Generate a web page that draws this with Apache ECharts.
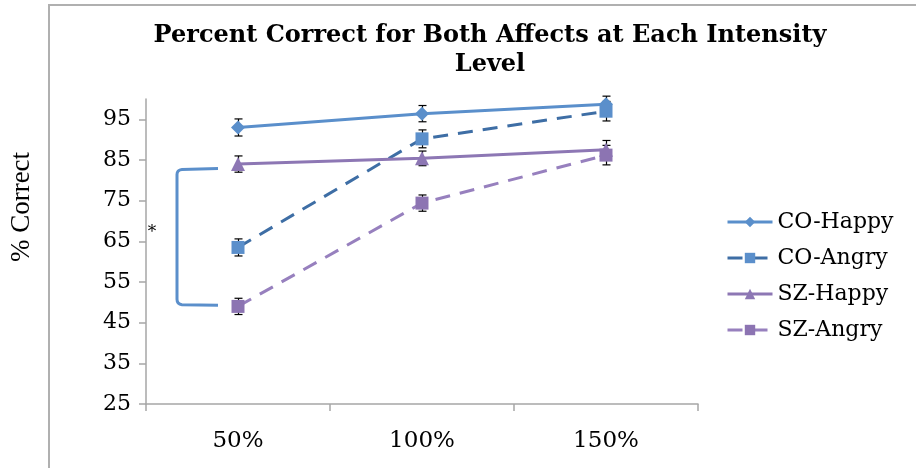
<!DOCTYPE html>
<html>
<head>
<meta charset="utf-8">
<script src="https://cdn.jsdelivr.net/npm/echarts@6/dist/echarts.min.js"></script>
<style>html,body{margin:0;padding:0;background:#fff;}#c{width:916px;height:468px;}</style>
</head>
<body>
<div id="c"></div>
<script>
const categories = ['50%', '100%', '150%'];
const yTicks = [25, 35, 45, 55, 65, 75, 85, 95];
const coHappy = [93.0, 96.4, 98.7];
const coAngry = [63.5, 90.2, 97.0];
const szHappy = [84.0, 85.4, 87.5];
const szAngry = [49.0, 74.4, 86.2];
const coHappyErr = [2.1, 2.0, 2.0];
const coAngryErr = [2.1, 2.2, 2.4];
const szHappyErr = [2.0, 1.8, 2.3];
const szAngryErr = [2.0, 2.0, 2.4];
const bracket = [[0, 82.9, 49.3, 67.2]];

const serif = 'DejaVu Serif';
const chart = echarts.init(document.getElementById('c'));

function errData(vals, errs) {
  return vals.map((v, i) => [i, v - errs[i], v + errs[i]]);
}
function errSeries(vals, errs) {
  return {
    type: 'custom',
    data: errData(vals, errs),
    z: 1,
    silent: true,
    renderItem: function (params, api) {
      const lo = api.coord([api.value(0), api.value(1)]);
      const hi = api.coord([api.value(0), api.value(2)]);
      const x = Math.round(lo[0]) + 0.5;
      const w = 4;
      const st = {stroke: '#000', lineWidth: 1.2};
      return {type: 'group', children: [
        {type: 'line', shape: {x1: x, y1: lo[1], x2: x, y2: hi[1]}, style: st},
        {type: 'line', shape: {x1: x - w, y1: lo[1], x2: x + w, y2: lo[1]}, style: st},
        {type: 'line', shape: {x1: x - w, y1: hi[1], x2: x + w, y2: hi[1]}, style: st}
      ]};
    }
  };
}

chart.setOption({
  animation: false,
  backgroundColor: '#fff',
  title: {
    text: 'Percent Correct for Both Affects at Each Intensity\nLevel',
    left: 485, top: 16, textAlign: 'center',
    textStyle: {fontFamily: serif, fontWeight: 'bold', fontSize: 24, lineHeight: 29, color: '#000'}
  },
  legend: {
    orient: 'vertical', left: 721, top: 206,
    itemWidth: 45, itemHeight: 13, itemGap: 14,
    lineStyle: {width: 3},
    textStyle: {fontFamily: serif, fontSize: 22, color: '#000'},
    data: ['CO-Happy', 'CO-Angry', 'SZ-Happy', 'SZ-Angry']
  },
  grid: {left: 146, top: 99, width: 552, height: 305, containLabel: false, outerBoundsMode: 'none'},
  xAxis: {
    type: 'category', data: categories, boundaryGap: true,
    axisLine: {lineStyle: {color: '#a6a6a6', width: 1.5}},
    axisTick: {show: true, length: 7, lineStyle: {color: '#a6a6a6', width: 1.5}},
    axisLabel: {fontFamily: serif, fontSize: 23, color: '#000', margin: 26}
  },
  yAxis: {
    type: 'value', min: 25, max: 100, interval: 10,
    splitLine: {show: false},
    axisLine: {show: true, lineStyle: {color: '#a6a6a6', width: 1.5}},
    axisTick: {show: true, length: 7, customValues: yTicks, lineStyle: {color: '#a6a6a6', width: 1.5}},
    axisLabel: {fontFamily: serif, fontSize: 22, color: '#000', margin: 15, customValues: yTicks}
  },
  graphic: [
    {type: 'line', shape: {x1: 49, y1: 5, x2: 49, y2: 468}, style: {stroke: '#b0b0b0', lineWidth: 2}},
    {type: 'line', shape: {x1: 48, y1: 5, x2: 916, y2: 5}, style: {stroke: '#b0b0b0', lineWidth: 2}},
    {type: 'text', x: 22, y: 207, rotation: Math.PI / 2,
     style: {text: '% Correct', fontFamily: 'Liberation Serif', fontSize: 27, fill: '#000', align: 'center', verticalAlign: 'middle'}}
  ],
  series: [
    errSeries(coHappy, coHappyErr),
    errSeries(coAngry, coAngryErr),
    errSeries(szHappy, szHappyErr),
    errSeries(szAngry, szAngryErr),
    {
      type: 'custom', data: bracket, silent: true, z: 1,
      renderItem: function (params, api) {
        const t = api.coord([api.value(0), api.value(1)]);
        const b = api.coord([api.value(0), api.value(2)]);
        const s = api.coord([api.value(0), api.value(3)]);
        const L = t[0] - 61, R = t[0] - 20, T = t[1], B = b[1];
        return {type: 'group', children: [
          {type: 'path', shape: {pathData: 'M' + R + ' ' + T + ' L' + (L + 5) + ' ' + (T + 1) + ' Q' + L + ' ' + (T + 1.5) + ' ' + L + ' ' + (T + 6) +
            ' L' + L + ' ' + (B - 6) + ' Q' + L + ' ' + (B - 1) + ' ' + (L + 5) + ' ' + (B - 0.5) + ' L' + R + ' ' + B},
           style: {stroke: '#5b8fcb', lineWidth: 3, fill: null}},
          {type: 'text', x: L - 25, y: s[1], style: {text: '*', fontFamily: serif, fontSize: 17, fill: '#000', align: 'center', verticalAlign: 'middle'}}
        ]};
      }
    },
    {
      name: 'CO-Happy', type: 'line', data: coHappy, z: 3,
      symbol: 'diamond', symbolSize: 14,
      itemStyle: {color: '#5a8fcb'},
      lineStyle: {color: '#5a8fcb', width: 3}
    },
    {
      name: 'CO-Angry', type: 'line', data: coAngry, z: 3,
      symbol: 'rect', symbolSize: 13,
      itemStyle: {color: '#5b8fcb'},
      lineStyle: {color: '#3e6ea5', width: 3, type: [15, 10]}
    },
    {
      name: 'SZ-Happy', type: 'line', data: szHappy, z: 3,
      symbol: 'triangle', symbolSize: 14,
      itemStyle: {color: '#8d77b4'},
      lineStyle: {color: '#8d77b4', width: 3}
    },
    {
      name: 'SZ-Angry', type: 'line', data: szAngry, z: 3,
      symbol: 'rect', symbolSize: 13,
      itemStyle: {color: '#8c74b2'},
      lineStyle: {color: '#9780be', width: 3, type: [15, 10]}
    }
  ]
});
</script>
</body>
</html>
